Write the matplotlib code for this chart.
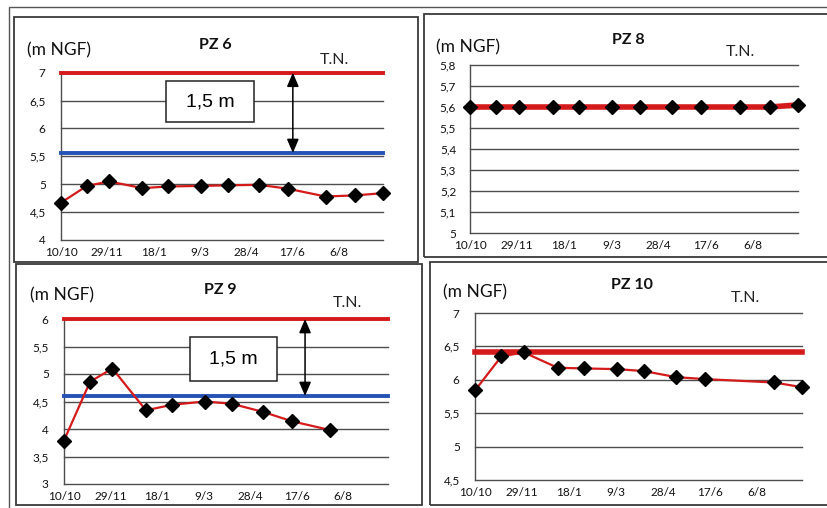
import datetime as dt
import matplotlib
matplotlib.use("Agg")
import matplotlib.pyplot as plt
from matplotlib.patches import Rectangle

# ---- data -------------------------------------------------------------
dates = ["2010-10-10", "2010-11-07", "2010-12-01", "2011-01-06", "2011-02-03",
         "2011-03-10", "2011-04-08", "2011-05-12", "2011-06-12", "2011-07-23",
         "2011-08-24", "2011-09-23"]

pz6 = [4.67, 4.97, 5.05, 4.93, 4.96, 4.97, 4.98, 4.99, 4.92, 4.78, 4.80, 4.84]
pz8 = [5.60, 5.60, 5.60, 5.60, 5.60, 5.60, 5.60, 5.60, 5.60, 5.60, 5.60, 5.61]
pz9 = [3.79, 4.86, 5.10, 4.34, 4.44, 4.50, 4.46, 4.31, 4.14, 3.98]
pz10_dates = dates[:9] + dates[10:]
pz10 = [5.84, 6.35, 6.41, 6.18, 6.17, 6.16, 6.13, 6.04, 6.01, 5.96, 5.89]

tn6, nappe6 = 7.0, 5.56
tn9, nappe9 = 6.0, 4.60
tn10 = 6.42

yticks6 = [4, 4.5, 5, 5.5, 6, 6.5, 7]
yticks8 = [5.0, 5.1, 5.2, 5.3, 5.4, 5.5, 5.6, 5.7, 5.8]
yticks9 = [3, 3.5, 4, 4.5, 5, 5.5, 6]
yticks10 = [4.5, 5, 5.5, 6, 6.5, 7]

# ---- styling ----------------------------------------------------------
W, H = 828, 508
RED = "#d41a1a"
BLUE = "#2452b5"
GRID = "#4d4d4d"
FONT = "Lato"
TXT = "#111111"

fig = plt.figure(figsize=(W / 100, H / 100), dpi=100)
fig.patch.set_facecolor("white")

to_dt = lambda s: dt.datetime.strptime(s, "%Y-%m-%d")
x_all = [to_dt(s) for s in dates]
start, end = x_all[0], x_all[-1]
xticks = [start + dt.timedelta(days=50 * k) for k in range(8)
          if start + dt.timedelta(days=50 * k) <= end]


def fmt_y(v):
    return f"{v:g}".replace(".", ",")


def px_axes(left, right, top, bottom):
    return fig.add_axes([left / W, 1 - bottom / H, (right - left) / W, (bottom - top) / H])


def style(ax, yticks, ypad):
    ax.set_xlim(start, end)
    ax.set_ylim(yticks[0], yticks[-1])
    ax.set_yticks(yticks)
    ax.set_yticklabels([fmt_y(v) for v in yticks], fontsize=8.5, family=FONT, color=TXT)
    ax.set_xticks(xticks)
    ax.set_xticklabels([f"{d.day}/{d.month}" for d in xticks], fontsize=8.5,
                       family=FONT, color=TXT)
    ax.tick_params(axis="both", length=0)
    ax.tick_params(axis="y", pad=ypad)
    ax.tick_params(axis="x", pad=5)
    for s in ("top", "right"):
        ax.spines[s].set_visible(False)
    for s in ("left", "bottom"):
        ax.spines[s].set_color(GRID)
        ax.spines[s].set_linewidth(1.0)
    for v in yticks[1:]:
        ax.axhline(v, color=GRID, lw=1.0, zorder=1, clip_on=False)
    ax.set_facecolor("none")


def headers(title, tx, ty, ux, uy, nx, ny):
    fig.text(tx / W, 1 - ty / H, title, fontsize=11.5, fontweight="bold", family=FONT,
             ha="center", va="center", color=TXT)
    fig.text(ux / W, 1 - uy / H, "(m NGF)", fontsize=12.5, family=FONT,
             ha="left", va="center", color=TXT)
    fig.text(nx / W, 1 - ny / H, "T.N.", fontsize=11.5, family=FONT,
             ha="center", va="center", color="#222222")


def series(ax, xs, ys, lw):
    ax.plot([to_dt(s) for s in xs], ys, color=RED, lw=lw, zorder=4, clip_on=False,
            marker="D", ms=7, mfc="black", mec="black", solid_capstyle="butt")


def level(ax, y, color, lw):
    ax.axhline(y, color=color, lw=lw, zorder=3, clip_on=False)


def gap_box(ax, x0, x1, y0, y1, ax_x, top, bottom):
    ax.add_patch(Rectangle((x0, y0), x1 - x0, y1 - y0, transform=ax.transAxes,
                           fill=True, fc="white", ec="#222222", lw=1.1, zorder=5))
    ax.text((x0 + x1) / 2, (y0 + y1) / 2, "1,5 m", transform=ax.transAxes,
            fontsize=14, family="Liberation Sans", ha="center", va="center", zorder=6)
    ax.annotate("", xy=(ax_x, bottom), xytext=(ax_x, top),
                xycoords=("axes fraction", "data"), textcoords=("axes fraction", "data"),
                arrowprops=dict(arrowstyle="<|-|>,head_length=0.7,head_width=0.3",
                                color="black", lw=1.1, shrinkA=0, shrinkB=0,
                                mutation_scale=12), zorder=6)


# ---- PZ 6 -------------------------------------------------------------
ax6 = px_axes(61, 383, 72.7, 240)
style(ax6, yticks6, 11)
level(ax6, tn6, RED, 2.8)
level(ax6, nappe6, BLUE, 2.8)
series(ax6, dates, pz6, 1.6)
gap_box(ax6, 0.326, 0.599, 0.703, 0.95, 0.72, tn6, nappe6)
headers("PZ 6", 215, 45, 27, 50, 334, 60)

# ---- PZ 8 -------------------------------------------------------------
ax8 = px_axes(470, 798, 65, 233)
style(ax8, yticks8, 10)
series(ax8, dates, pz8, 4.0)
headers("PZ 8", 628, 40, 436, 47, 740, 52)

# ---- PZ 9 -------------------------------------------------------------
ax9 = px_axes(64, 388, 319, 484)
style(ax9, yticks9, 11)
level(ax9, tn9, RED, 2.8)
level(ax9, nappe9, BLUE, 2.8)
series(ax9, dates[:len(pz9)], pz9, 1.6)
gap_box(ax9, 0.389, 0.657, 0.626, 0.889, 0.744, tn9, nappe9)
headers("PZ 9", 220, 290, 30, 295, 347, 303)

# ---- PZ 10 ------------------------------------------------------------
ax10 = px_axes(475, 802, 313, 480)
style(ax10, yticks10, 11)
level(ax10, tn10, RED, 4.0)
series(ax10, pz10_dates, pz10, 1.6)
headers("PZ 10", 632, 285, 443, 292, 745, 298)

# ---- chart frames and page border ------------------------------------
def frame(x0, y0, x1, y1, lw=1.3, color="#3a3a3a"):
    fig.add_artist(Rectangle((x0 / W, 1 - y1 / H), (x1 - x0) / W, (y1 - y0) / H,
                             transform=fig.transFigure, fill=False, lw=lw, ec=color))

frame(14, 17, 418, 262)
frame(424, 14, 836, 257)
frame(16, 264, 422, 505)
frame(430, 262, 836, 505)
frame(9, 7, 840, 520, lw=1.0, color="#555555")

fig.savefig("out.png", dpi=100, facecolor="white")
